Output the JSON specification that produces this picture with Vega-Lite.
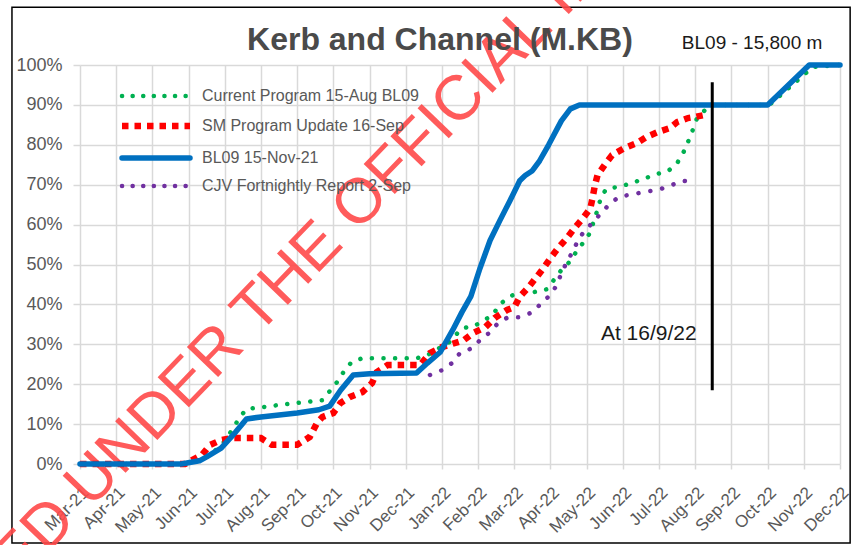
{
  "$schema": "https://vega.github.io/schema/vega-lite/v6.json",
  "width": 760,
  "height": 399,
  "autosize": "none",
  "padding": {"left": 80, "top": 65, "right": 12, "bottom": 81},
  "background": "white",
  "config": {
    "font": "Liberation Sans",
    "view": {"stroke": null},
    "axis": {"gridColor": "#d9d9d9", "gridWidth": 1.5, "tickColor": "#d9d9d9", "tickWidth": 1.5, "domain": false, "labelColor": "#595959", "labelFont": "Liberation Sans"},
    "axisX": {"tickCount": 30},
    "axisY": {"tickCount": 15}
  },
  "datasets": {
    "progress": [
      {"series": "BL09 15-Nov-21", "m": 0, "pct": 0},
      {"series": "BL09 15-Nov-21", "m": 2.8, "pct": 0},
      {"series": "BL09 15-Nov-21", "m": 3.3, "pct": 0.8},
      {"series": "BL09 15-Nov-21", "m": 3.5, "pct": 1.8},
      {"series": "BL09 15-Nov-21", "m": 3.9, "pct": 4},
      {"series": "BL09 15-Nov-21", "m": 4.3, "pct": 8},
      {"series": "BL09 15-Nov-21", "m": 4.6, "pct": 11.3},
      {"series": "BL09 15-Nov-21", "m": 5.0, "pct": 11.8},
      {"series": "BL09 15-Nov-21", "m": 5.5, "pct": 12.3},
      {"series": "BL09 15-Nov-21", "m": 6.0, "pct": 12.8},
      {"series": "BL09 15-Nov-21", "m": 6.6, "pct": 13.6},
      {"series": "BL09 15-Nov-21", "m": 6.9, "pct": 14.5},
      {"series": "BL09 15-Nov-21", "m": 7.2, "pct": 18.5},
      {"series": "BL09 15-Nov-21", "m": 7.55, "pct": 22.3},
      {"series": "BL09 15-Nov-21", "m": 8.0, "pct": 22.6},
      {"series": "BL09 15-Nov-21", "m": 9.3, "pct": 22.8},
      {"series": "BL09 15-Nov-21", "m": 9.6, "pct": 25.3},
      {"series": "BL09 15-Nov-21", "m": 9.95, "pct": 28},
      {"series": "BL09 15-Nov-21", "m": 10.3, "pct": 33.6},
      {"series": "BL09 15-Nov-21", "m": 10.55, "pct": 38},
      {"series": "BL09 15-Nov-21", "m": 10.8, "pct": 42},
      {"series": "BL09 15-Nov-21", "m": 11.05, "pct": 49},
      {"series": "BL09 15-Nov-21", "m": 11.33, "pct": 56},
      {"series": "BL09 15-Nov-21", "m": 11.6, "pct": 61},
      {"series": "BL09 15-Nov-21", "m": 11.88, "pct": 66},
      {"series": "BL09 15-Nov-21", "m": 12.15, "pct": 71},
      {"series": "BL09 15-Nov-21", "m": 12.3, "pct": 72.3},
      {"series": "BL09 15-Nov-21", "m": 12.5, "pct": 73.5},
      {"series": "BL09 15-Nov-21", "m": 12.7, "pct": 76},
      {"series": "BL09 15-Nov-21", "m": 12.95, "pct": 80},
      {"series": "BL09 15-Nov-21", "m": 13.3, "pct": 86},
      {"series": "BL09 15-Nov-21", "m": 13.55, "pct": 89},
      {"series": "BL09 15-Nov-21", "m": 13.8, "pct": 90},
      {"series": "BL09 15-Nov-21", "m": 19.0, "pct": 90},
      {"series": "BL09 15-Nov-21", "m": 20.15, "pct": 100},
      {"series": "BL09 15-Nov-21", "m": 21, "pct": 100},

      {"series": "Current Program 15-Aug BL09", "m": 0, "pct": 0},
      {"series": "Current Program 15-Aug BL09", "m": 2.8, "pct": 0},
      {"series": "Current Program 15-Aug BL09", "m": 3.3, "pct": 0.8},
      {"series": "Current Program 15-Aug BL09", "m": 3.5, "pct": 1.8},
      {"series": "Current Program 15-Aug BL09", "m": 3.9, "pct": 4.5},
      {"series": "Current Program 15-Aug BL09", "m": 4.2, "pct": 8.5},
      {"series": "Current Program 15-Aug BL09", "m": 4.4, "pct": 11.5},
      {"series": "Current Program 15-Aug BL09", "m": 4.6, "pct": 13.8},
      {"series": "Current Program 15-Aug BL09", "m": 5.0, "pct": 14.2},
      {"series": "Current Program 15-Aug BL09", "m": 5.5, "pct": 14.8},
      {"series": "Current Program 15-Aug BL09", "m": 6.0, "pct": 15.3},
      {"series": "Current Program 15-Aug BL09", "m": 6.7, "pct": 16},
      {"series": "Current Program 15-Aug BL09", "m": 7.1, "pct": 20.5},
      {"series": "Current Program 15-Aug BL09", "m": 7.3, "pct": 23.3},
      {"series": "Current Program 15-Aug BL09", "m": 7.5, "pct": 25.5},
      {"series": "Current Program 15-Aug BL09", "m": 7.8, "pct": 26.5},
      {"series": "Current Program 15-Aug BL09", "m": 9.3, "pct": 26.5},
      {"series": "Current Program 15-Aug BL09", "m": 9.6, "pct": 27.3},
      {"series": "Current Program 15-Aug BL09", "m": 10.2, "pct": 30.5},
      {"series": "Current Program 15-Aug BL09", "m": 10.55, "pct": 34},
      {"series": "Current Program 15-Aug BL09", "m": 10.9, "pct": 34.6},
      {"series": "Current Program 15-Aug BL09", "m": 11.4, "pct": 37.3},
      {"series": "Current Program 15-Aug BL09", "m": 11.6, "pct": 40},
      {"series": "Current Program 15-Aug BL09", "m": 11.88, "pct": 42},
      {"series": "Current Program 15-Aug BL09", "m": 12.15, "pct": 43},
      {"series": "Current Program 15-Aug BL09", "m": 12.5, "pct": 43},
      {"series": "Current Program 15-Aug BL09", "m": 12.9, "pct": 43.8},
      {"series": "Current Program 15-Aug BL09", "m": 13.05, "pct": 45.6},
      {"series": "Current Program 15-Aug BL09", "m": 13.3, "pct": 48.6},
      {"series": "Current Program 15-Aug BL09", "m": 13.5, "pct": 50.4},
      {"series": "Current Program 15-Aug BL09", "m": 13.7, "pct": 53},
      {"series": "Current Program 15-Aug BL09", "m": 13.9, "pct": 55.4},
      {"series": "Current Program 15-Aug BL09", "m": 14.1, "pct": 58},
      {"series": "Current Program 15-Aug BL09", "m": 14.2, "pct": 61},
      {"series": "Current Program 15-Aug BL09", "m": 14.3, "pct": 63.7},
      {"series": "Current Program 15-Aug BL09", "m": 14.4, "pct": 67},
      {"series": "Current Program 15-Aug BL09", "m": 14.55, "pct": 69},
      {"series": "Current Program 15-Aug BL09", "m": 14.9, "pct": 69.5},
      {"series": "Current Program 15-Aug BL09", "m": 15.25, "pct": 70.4},
      {"series": "Current Program 15-Aug BL09", "m": 15.55, "pct": 71.4},
      {"series": "Current Program 15-Aug BL09", "m": 15.95, "pct": 72.7},
      {"series": "Current Program 15-Aug BL09", "m": 16.25, "pct": 73.4},
      {"series": "Current Program 15-Aug BL09", "m": 16.5, "pct": 75.4},
      {"series": "Current Program 15-Aug BL09", "m": 16.67, "pct": 78},
      {"series": "Current Program 15-Aug BL09", "m": 16.8, "pct": 80.7},
      {"series": "Current Program 15-Aug BL09", "m": 16.93, "pct": 83.7},
      {"series": "Current Program 15-Aug BL09", "m": 17.05, "pct": 86.7},
      {"series": "Current Program 15-Aug BL09", "m": 17.27, "pct": 88.7},
      {"series": "Current Program 15-Aug BL09", "m": 17.45, "pct": 90},
      {"series": "Current Program 15-Aug BL09", "m": 19.05, "pct": 90},
      {"series": "Current Program 15-Aug BL09", "m": 20.25, "pct": 99.5},
      {"series": "Current Program 15-Aug BL09", "m": 21, "pct": 100},

      {"series": "SM Program Update 16-Sep", "m": 0, "pct": 0},
      {"series": "SM Program Update 16-Sep", "m": 2.9, "pct": 0},
      {"series": "SM Program Update 16-Sep", "m": 3.37, "pct": 2.3},
      {"series": "SM Program Update 16-Sep", "m": 3.6, "pct": 4.8},
      {"series": "SM Program Update 16-Sep", "m": 3.9, "pct": 6},
      {"series": "SM Program Update 16-Sep", "m": 4.2, "pct": 6.5},
      {"series": "SM Program Update 16-Sep", "m": 5.0, "pct": 6.5},
      {"series": "SM Program Update 16-Sep", "m": 5.3, "pct": 4.8},
      {"series": "SM Program Update 16-Sep", "m": 6.0, "pct": 4.8},
      {"series": "SM Program Update 16-Sep", "m": 6.35, "pct": 6.8},
      {"series": "SM Program Update 16-Sep", "m": 6.55, "pct": 10.3},
      {"series": "SM Program Update 16-Sep", "m": 6.7, "pct": 11.8},
      {"series": "SM Program Update 16-Sep", "m": 7.0, "pct": 12.8},
      {"series": "SM Program Update 16-Sep", "m": 7.2, "pct": 15.3},
      {"series": "SM Program Update 16-Sep", "m": 7.46, "pct": 16.8},
      {"series": "SM Program Update 16-Sep", "m": 7.8, "pct": 18},
      {"series": "SM Program Update 16-Sep", "m": 8.07, "pct": 20.3},
      {"series": "SM Program Update 16-Sep", "m": 8.2, "pct": 23},
      {"series": "SM Program Update 16-Sep", "m": 8.5, "pct": 24.8},
      {"series": "SM Program Update 16-Sep", "m": 9.4, "pct": 24.8},
      {"series": "SM Program Update 16-Sep", "m": 9.67, "pct": 27.8},
      {"series": "SM Program Update 16-Sep", "m": 10.0, "pct": 29.3},
      {"series": "SM Program Update 16-Sep", "m": 10.6, "pct": 31},
      {"series": "SM Program Update 16-Sep", "m": 10.86, "pct": 32.8},
      {"series": "SM Program Update 16-Sep", "m": 11.2, "pct": 34.3},
      {"series": "SM Program Update 16-Sep", "m": 11.46, "pct": 36.6},
      {"series": "SM Program Update 16-Sep", "m": 11.8, "pct": 38.6},
      {"series": "SM Program Update 16-Sep", "m": 12.0, "pct": 39.3},
      {"series": "SM Program Update 16-Sep", "m": 12.15, "pct": 41.9},
      {"series": "SM Program Update 16-Sep", "m": 12.4, "pct": 44.4},
      {"series": "SM Program Update 16-Sep", "m": 12.62, "pct": 46.9},
      {"series": "SM Program Update 16-Sep", "m": 12.8, "pct": 49},
      {"series": "SM Program Update 16-Sep", "m": 13.0, "pct": 51.6},
      {"series": "SM Program Update 16-Sep", "m": 13.2, "pct": 54},
      {"series": "SM Program Update 16-Sep", "m": 13.45, "pct": 56.6},
      {"series": "SM Program Update 16-Sep", "m": 13.67, "pct": 59.2},
      {"series": "SM Program Update 16-Sep", "m": 13.87, "pct": 61.3},
      {"series": "SM Program Update 16-Sep", "m": 14.1, "pct": 64},
      {"series": "SM Program Update 16-Sep", "m": 14.17, "pct": 67},
      {"series": "SM Program Update 16-Sep", "m": 14.22, "pct": 69.5},
      {"series": "SM Program Update 16-Sep", "m": 14.3, "pct": 72.4},
      {"series": "SM Program Update 16-Sep", "m": 14.5, "pct": 75},
      {"series": "SM Program Update 16-Sep", "m": 14.7, "pct": 77.4},
      {"series": "SM Program Update 16-Sep", "m": 15.05, "pct": 79.2},
      {"series": "SM Program Update 16-Sep", "m": 15.4, "pct": 80.5},
      {"series": "SM Program Update 16-Sep", "m": 15.66, "pct": 82},
      {"series": "SM Program Update 16-Sep", "m": 15.97, "pct": 83.2},
      {"series": "SM Program Update 16-Sep", "m": 16.3, "pct": 84.2},
      {"series": "SM Program Update 16-Sep", "m": 16.5, "pct": 85.7},
      {"series": "SM Program Update 16-Sep", "m": 16.8, "pct": 86.7},
      {"series": "SM Program Update 16-Sep", "m": 17.0, "pct": 87},
      {"series": "SM Program Update 16-Sep", "m": 17.27, "pct": 87.5},

      {"series": "CJV Fortnightly Report 2-Sep", "m": 9.67, "pct": 22.3},
      {"series": "CJV Fortnightly Report 2-Sep", "m": 10.0, "pct": 23.5},
      {"series": "CJV Fortnightly Report 2-Sep", "m": 10.28, "pct": 25.3},
      {"series": "CJV Fortnightly Report 2-Sep", "m": 10.5, "pct": 27.8},
      {"series": "CJV Fortnightly Report 2-Sep", "m": 10.83, "pct": 29},
      {"series": "CJV Fortnightly Report 2-Sep", "m": 11.05, "pct": 31},
      {"series": "CJV Fortnightly Report 2-Sep", "m": 11.3, "pct": 32.8},
      {"series": "CJV Fortnightly Report 2-Sep", "m": 11.55, "pct": 35.3},
      {"series": "CJV Fortnightly Report 2-Sep", "m": 11.83, "pct": 36.8},
      {"series": "CJV Fortnightly Report 2-Sep", "m": 12.15, "pct": 36.8},
      {"series": "CJV Fortnightly Report 2-Sep", "m": 12.5, "pct": 38},
      {"series": "CJV Fortnightly Report 2-Sep", "m": 12.76, "pct": 40.4},
      {"series": "CJV Fortnightly Report 2-Sep", "m": 13.0, "pct": 42.4},
      {"series": "CJV Fortnightly Report 2-Sep", "m": 13.18, "pct": 44.9},
      {"series": "CJV Fortnightly Report 2-Sep", "m": 13.3, "pct": 47.8},
      {"series": "CJV Fortnightly Report 2-Sep", "m": 13.45, "pct": 50.6},
      {"series": "CJV Fortnightly Report 2-Sep", "m": 13.6, "pct": 53},
      {"series": "CJV Fortnightly Report 2-Sep", "m": 13.76, "pct": 56},
      {"series": "CJV Fortnightly Report 2-Sep", "m": 13.95, "pct": 58.6},
      {"series": "CJV Fortnightly Report 2-Sep", "m": 14.17, "pct": 60.5},
      {"series": "CJV Fortnightly Report 2-Sep", "m": 14.4, "pct": 62.9},
      {"series": "CJV Fortnightly Report 2-Sep", "m": 14.64, "pct": 65.2},
      {"series": "CJV Fortnightly Report 2-Sep", "m": 14.9, "pct": 67},
      {"series": "CJV Fortnightly Report 2-Sep", "m": 15.28, "pct": 67.6},
      {"series": "CJV Fortnightly Report 2-Sep", "m": 15.6, "pct": 68.2},
      {"series": "CJV Fortnightly Report 2-Sep", "m": 15.97, "pct": 68.7},
      {"series": "CJV Fortnightly Report 2-Sep", "m": 16.3, "pct": 69.7},
      {"series": "CJV Fortnightly Report 2-Sep", "m": 16.63, "pct": 71},
      {"series": "CJV Fortnightly Report 2-Sep", "m": 17.0, "pct": 70.7}
    ]
  },
  "layer": [
    {
      "data": {"values": [{}]},
      "mark": {"type": "rect", "fill": "transparent", "stroke": "#000000", "strokeWidth": 1.5, "clip": false},
      "encoding": {
        "x": {"datum": -1.88, "type": "quantitative", "title": null, "scale": {"domain": [0, 21], "nice": false, "zero": false},
          "axis": {"title": null, "values": [0,1,2,3,4,5,6,7,8,9,10,11,12,13,14,15,16,17,18,19,20,21], "tickCount": 30, "grid": true, "labelExpr": "timeFormat(datetime(2021, 2 + datum.value, 1), '%b-%y')", "labelAngle": -45, "labelAlign": "right", "labelBaseline": "top", "tickSize": 5, "labelPadding": 15, "labelFontSize": 17, "labelOverlap": false, "labelFlush": false}},
        "x2": {"datum": 21.28},
        "y": {"datum": -19.8, "type": "quantitative", "title": null, "scale": {"domain": [0, 100], "nice": false, "zero": false},
          "axis": {"title": null, "values": [0,10,20,30,40,50,60,70,80,90,100], "tickCount": 15, "grid": true, "labelExpr": "datum.value + '%'", "tickSize": 7, "labelPadding": 11, "labelFontSize": 18, "labelOverlap": false, "labelFlush": false}},
        "y2": {"datum": 114.5}
      }
    },
    {
      "data": {"values": [{}]},
      "mark": {"type": "text", "text": "RELEASED UNDER THE OFFICIAL INFORMATION ACT", "fontSize": 63, "color": "#ff4a4a", "opacity": 0.9, "angle": 314, "align": "center", "baseline": "middle", "clip": false},
      "encoding": {
        "x": {"datum": 8.6, "type": "quantitative", "title": null,
          "axis": {"title": null, "values": [0,1,2,3,4,5,6,7,8,9,10,11,12,13,14,15,16,17,18,19,20,21], "tickCount": 30, "grid": true, "labelExpr": "timeFormat(datetime(2021, 2 + datum.value, 1), '%b-%y')", "labelAngle": -45, "labelAlign": "right", "labelBaseline": "top", "tickSize": 5, "labelPadding": 15, "labelFontSize": 17, "labelOverlap": false, "labelFlush": false}},
        "y": {"datum": 73.6, "type": "quantitative", "title": null,
          "axis": {"title": null, "values": [0,10,20,30,40,50,60,70,80,90,100], "tickCount": 15, "grid": true, "labelExpr": "datum.value + '%'", "tickSize": 7, "labelPadding": 11, "labelFontSize": 18, "labelOverlap": false, "labelFlush": false}}
      }
    },
    {
      "data": {"name": "progress"},
      "transform": [{"filter": "datum.series === 'Current Program 15-Aug BL09'"}],
      "mark": {"type": "line", "strokeWidth": 4.5, "strokeDash": [0.1, 11.5], "strokeCap": "round", "clip": false},
      "encoding": {
        "x": {"field": "m", "type": "quantitative", "title": null,
          "axis": {"title": null, "values": [0,1,2,3,4,5,6,7,8,9,10,11,12,13,14,15,16,17,18,19,20,21], "tickCount": 30, "grid": true, "labelExpr": "timeFormat(datetime(2021, 2 + datum.value, 1), '%b-%y')", "labelAngle": -45, "labelAlign": "right", "labelBaseline": "top", "tickSize": 5, "labelPadding": 15, "labelFontSize": 17, "labelOverlap": false, "labelFlush": false}},
        "y": {"field": "pct", "type": "quantitative", "title": null,
          "axis": {"title": null, "values": [0,10,20,30,40,50,60,70,80,90,100], "tickCount": 15, "grid": true, "labelExpr": "datum.value + '%'", "tickSize": 7, "labelPadding": 11, "labelFontSize": 18, "labelOverlap": false, "labelFlush": false}},
        "color": {"field": "series", "type": "nominal",
          "scale": {"domain": ["Current Program 15-Aug BL09", "SM Program Update 16-Sep", "BL09 15-Nov-21", "CJV Fortnightly Report 2-Sep"], "range": ["#00B050", "#FF0000", "#0070C0", "#7030A0"]},
          "legend": {"title": null, "orient": "none", "legendX": 42, "legendY": 23, "padding": 0, "rowPadding": 8, "symbolType": "M-6.8,0L6.8,0", "symbolSize": 100, "symbolOffset": 26, "labelOffset": 38, "labelFontSize": 16, "labelColor": "#595959", "labelFont": "Liberation Sans", "labelLimit": 400, "symbolStrokeWidth": 5,
            "encode": {"symbols": {"update": {
              "strokeDash": {"signal": "datum.value === 'SM Program Update 16-Sep' ? [6.5, 6] : datum.value === 'BL09 15-Nov-21' ? [1, 0] : [0.1, 10.5]"},
              "strokeCap": {"signal": "datum.value === 'SM Program Update 16-Sep' ? 'butt' : 'round'"},
              "strokeWidth": {"signal": "datum.value === 'SM Program Update 16-Sep' ? 6.5 : datum.value === 'BL09 15-Nov-21' ? 5.5 : 4.5"}
            }}}}}
      }
    },
    {
      "data": {"name": "progress"},
      "transform": [{"filter": "datum.series === 'SM Program Update 16-Sep'"}],
      "mark": {"type": "line", "strokeWidth": 6.5, "strokeDash": [6.5, 6], "strokeCap": "butt", "clip": false},
      "encoding": {
        "x": {"field": "m", "type": "quantitative", "title": null,
          "axis": {"title": null, "values": [0,1,2,3,4,5,6,7,8,9,10,11,12,13,14,15,16,17,18,19,20,21], "tickCount": 30, "grid": true, "labelExpr": "timeFormat(datetime(2021, 2 + datum.value, 1), '%b-%y')", "labelAngle": -45, "labelAlign": "right", "labelBaseline": "top", "tickSize": 5, "labelPadding": 15, "labelFontSize": 17, "labelOverlap": false, "labelFlush": false}},
        "y": {"field": "pct", "type": "quantitative", "title": null,
          "axis": {"title": null, "values": [0,10,20,30,40,50,60,70,80,90,100], "tickCount": 15, "grid": true, "labelExpr": "datum.value + '%'", "tickSize": 7, "labelPadding": 11, "labelFontSize": 18, "labelOverlap": false, "labelFlush": false}},
        "color": {"field": "series", "type": "nominal"}
      }
    },
    {
      "data": {"name": "progress"},
      "transform": [{"filter": "datum.series === 'BL09 15-Nov-21'"}],
      "mark": {"type": "line", "strokeWidth": 5.5, "strokeCap": "round", "strokeJoin": "round", "clip": false},
      "encoding": {
        "x": {"field": "m", "type": "quantitative", "title": null,
          "axis": {"title": null, "values": [0,1,2,3,4,5,6,7,8,9,10,11,12,13,14,15,16,17,18,19,20,21], "tickCount": 30, "grid": true, "labelExpr": "timeFormat(datetime(2021, 2 + datum.value, 1), '%b-%y')", "labelAngle": -45, "labelAlign": "right", "labelBaseline": "top", "tickSize": 5, "labelPadding": 15, "labelFontSize": 17, "labelOverlap": false, "labelFlush": false}},
        "y": {"field": "pct", "type": "quantitative", "title": null,
          "axis": {"title": null, "values": [0,10,20,30,40,50,60,70,80,90,100], "tickCount": 15, "grid": true, "labelExpr": "datum.value + '%'", "tickSize": 7, "labelPadding": 11, "labelFontSize": 18, "labelOverlap": false, "labelFlush": false}},
        "color": {"field": "series", "type": "nominal"}
      }
    },
    {
      "data": {"name": "progress"},
      "transform": [{"filter": "datum.series === 'CJV Fortnightly Report 2-Sep'"}],
      "mark": {"type": "line", "strokeWidth": 4.5, "strokeDash": [0.1, 12], "strokeCap": "round", "clip": false},
      "encoding": {
        "x": {"field": "m", "type": "quantitative", "title": null,
          "axis": {"title": null, "values": [0,1,2,3,4,5,6,7,8,9,10,11,12,13,14,15,16,17,18,19,20,21], "tickCount": 30, "grid": true, "labelExpr": "timeFormat(datetime(2021, 2 + datum.value, 1), '%b-%y')", "labelAngle": -45, "labelAlign": "right", "labelBaseline": "top", "tickSize": 5, "labelPadding": 15, "labelFontSize": 17, "labelOverlap": false, "labelFlush": false}},
        "y": {"field": "pct", "type": "quantitative", "title": null,
          "axis": {"title": null, "values": [0,10,20,30,40,50,60,70,80,90,100], "tickCount": 15, "grid": true, "labelExpr": "datum.value + '%'", "tickSize": 7, "labelPadding": 11, "labelFontSize": 18, "labelOverlap": false, "labelFlush": false}},
        "color": {"field": "series", "type": "nominal"}
      }
    },
    {
      "data": {"values": [{}]},
      "mark": {"type": "rule", "color": "#000000", "strokeWidth": 3, "clip": false},
      "encoding": {
        "x": {"datum": 17.47, "type": "quantitative", "title": null,
          "axis": {"title": null, "values": [0,1,2,3,4,5,6,7,8,9,10,11,12,13,14,15,16,17,18,19,20,21], "tickCount": 30, "grid": true, "labelExpr": "timeFormat(datetime(2021, 2 + datum.value, 1), '%b-%y')", "labelAngle": -45, "labelAlign": "right", "labelBaseline": "top", "tickSize": 5, "labelPadding": 15, "labelFontSize": 17, "labelOverlap": false, "labelFlush": false}},
        "y": {"datum": 18.5, "type": "quantitative", "title": null,
          "axis": {"title": null, "values": [0,10,20,30,40,50,60,70,80,90,100], "tickCount": 15, "grid": true, "labelExpr": "datum.value + '%'", "tickSize": 7, "labelPadding": 11, "labelFontSize": 18, "labelOverlap": false, "labelFlush": false}},
        "y2": {"datum": 95.7}
      }
    },
    {
      "data": {"values": [{}]},
      "mark": {"type": "text", "text": "At 16/9/22", "fontSize": 21, "color": "#1a1a1a", "align": "right", "baseline": "middle", "clip": false},
      "encoding": {
        "x": {"datum": 17.04, "type": "quantitative", "title": null,
          "axis": {"title": null, "values": [0,1,2,3,4,5,6,7,8,9,10,11,12,13,14,15,16,17,18,19,20,21], "tickCount": 30, "grid": true, "labelExpr": "timeFormat(datetime(2021, 2 + datum.value, 1), '%b-%y')", "labelAngle": -45, "labelAlign": "right", "labelBaseline": "top", "tickSize": 5, "labelPadding": 15, "labelFontSize": 17, "labelOverlap": false, "labelFlush": false}},
        "y": {"datum": 32.6, "type": "quantitative", "title": null,
          "axis": {"title": null, "values": [0,10,20,30,40,50,60,70,80,90,100], "tickCount": 15, "grid": true, "labelExpr": "datum.value + '%'", "tickSize": 7, "labelPadding": 11, "labelFontSize": 18, "labelOverlap": false, "labelFlush": false}}
      }
    },
    {
      "data": {"values": [{}]},
      "mark": {"type": "text", "text": "BL09 - 15,800 m", "fontSize": 19, "color": "#1a1a1a", "align": "left", "baseline": "middle", "clip": false},
      "encoding": {
        "x": {"datum": 16.63, "type": "quantitative", "title": null,
          "axis": {"title": null, "values": [0,1,2,3,4,5,6,7,8,9,10,11,12,13,14,15,16,17,18,19,20,21], "tickCount": 30, "grid": true, "labelExpr": "timeFormat(datetime(2021, 2 + datum.value, 1), '%b-%y')", "labelAngle": -45, "labelAlign": "right", "labelBaseline": "top", "tickSize": 5, "labelPadding": 15, "labelFontSize": 17, "labelOverlap": false, "labelFlush": false}},
        "y": {"datum": 105.5, "type": "quantitative", "title": null,
          "axis": {"title": null, "values": [0,10,20,30,40,50,60,70,80,90,100], "tickCount": 15, "grid": true, "labelExpr": "datum.value + '%'", "tickSize": 7, "labelPadding": 11, "labelFontSize": 18, "labelOverlap": false, "labelFlush": false}}
      }
    },
    {
      "data": {"values": [{}]},
      "mark": {"type": "text", "text": "Kerb and Channel (M.KB)", "fontSize": 32, "fontWeight": "bold", "color": "#4a4a4a", "align": "center", "baseline": "middle", "clip": false},
      "encoding": {
        "x": {"datum": 9.945, "type": "quantitative", "title": null,
          "axis": {"title": null, "values": [0,1,2,3,4,5,6,7,8,9,10,11,12,13,14,15,16,17,18,19,20,21], "tickCount": 30, "grid": true, "labelExpr": "timeFormat(datetime(2021, 2 + datum.value, 1), '%b-%y')", "labelAngle": -45, "labelAlign": "right", "labelBaseline": "top", "tickSize": 5, "labelPadding": 15, "labelFontSize": 17, "labelOverlap": false, "labelFlush": false}},
        "y": {"datum": 106.3, "type": "quantitative", "title": null,
          "axis": {"title": null, "values": [0,10,20,30,40,50,60,70,80,90,100], "tickCount": 15, "grid": true, "labelExpr": "datum.value + '%'", "tickSize": 7, "labelPadding": 11, "labelFontSize": 18, "labelOverlap": false, "labelFlush": false}}
      }
    }
  ]
}
